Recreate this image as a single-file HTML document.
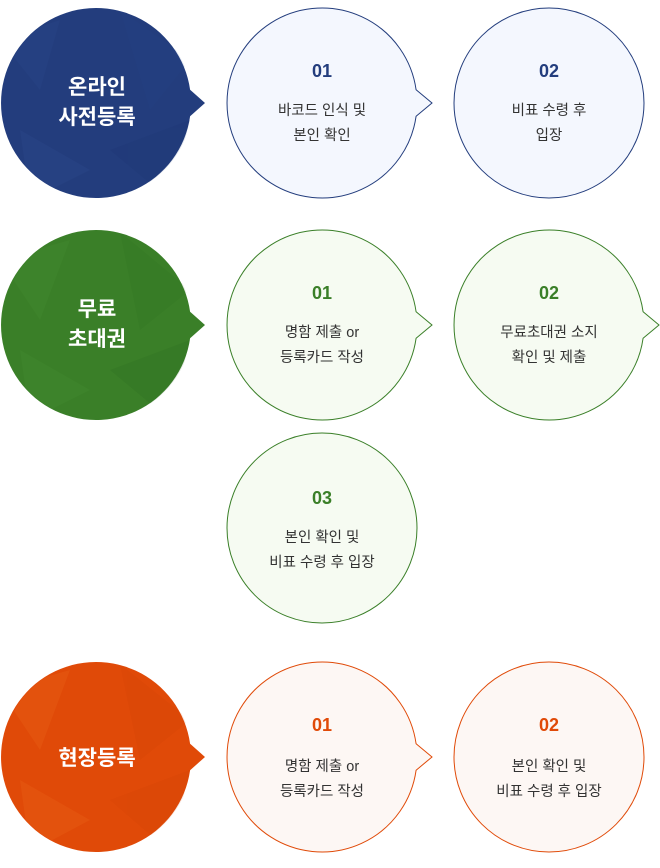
<!DOCTYPE html>
<html><head><meta charset="utf-8"><style>
html,body{margin:0;padding:0;background:#fff;}
svg{display:block;font-family:"Liberation Sans","Noto Sans CJK KR",sans-serif;}
</style></head><body>
<svg width="660" height="868" viewBox="0 0 660 868" xmlns="http://www.w3.org/2000/svg">
<defs>
<clipPath id="c1"><circle cx="97" cy="103" r="95"/></clipPath>
<clipPath id="c2"><circle cx="97" cy="325" r="95"/></clipPath>
<clipPath id="c3"><circle cx="97" cy="757" r="95"/></clipPath>
</defs>

<!-- Row 1 blue -->
<path d="M190.1,89.8 A95,95 0 1 0 190.1,116.2 L205,103 Z" fill="#233d7d"/>
<g clip-path="url(#c1)" opacity="0.12">
<polygon points="0,40 60,20 40,90" fill="#3b5aa0"/>
<polygon points="120,10 190,60 150,110" fill="#2b4a92"/>
<polygon points="20,130 90,170 30,200" fill="#4363a8"/>
<polygon points="110,150 190,120 170,200" fill="#1a2f68"/>
</g>
<text x="97" y="94" fill="#fff" font-size="21" font-weight="bold" text-anchor="middle">온라인</text>
<text x="97" y="124" fill="#fff" font-size="21" font-weight="bold" text-anchor="middle">사전등록</text>

<path d="M416.1,89.8 A95,95 0 1 0 416.1,116.2 L432,103 Z" fill="#f4f7fe" stroke="#233d7d" stroke-width="1"/>
<text x="322" y="77" fill="#233d7d" font-size="18" font-weight="bold" text-anchor="middle">01</text>
<text x="322" y="115" fill="#333" font-size="14.5" text-anchor="middle">바코드 인식 및</text>
<text x="322" y="140" fill="#333" font-size="14.5" text-anchor="middle">본인 확인</text>

<circle cx="549" cy="103" r="95" fill="#f4f7fe" stroke="#233d7d" stroke-width="1"/>
<text x="549" y="77" fill="#233d7d" font-size="18" font-weight="bold" text-anchor="middle">02</text>
<text x="549" y="115" fill="#333" font-size="14.5" text-anchor="middle">비표 수령 후</text>
<text x="549" y="140" fill="#333" font-size="14.5" text-anchor="middle">입장</text>

<!-- Row 2 green -->
<path d="M190.1,311.8 A95,95 0 1 0 190.1,338.2 L205,325 Z" fill="#3a7f28"/>
<g clip-path="url(#c2)" opacity="0.12">
<polygon points="0,260 70,240 40,320" fill="#5da040"/>
<polygon points="120,232 190,290 140,330" fill="#2a6a1c"/>
<polygon points="20,350 90,390 30,420" fill="#5da040"/>
<polygon points="110,370 190,340 170,420" fill="#245a18"/>
</g>
<text x="97" y="316" fill="#fff" font-size="21" font-weight="bold" text-anchor="middle">무료</text>
<text x="97" y="346" fill="#fff" font-size="21" font-weight="bold" text-anchor="middle">초대권</text>

<path d="M416.1,311.8 A95,95 0 1 0 416.1,338.2 L432,325 Z" fill="#f6fbf2" stroke="#3a7f28" stroke-width="1"/>
<text x="322" y="299" fill="#3a7f28" font-size="18" font-weight="bold" text-anchor="middle">01</text>
<text x="322" y="337" fill="#333" font-size="14.5" text-anchor="middle">명함 제출 or</text>
<text x="322" y="362" fill="#333" font-size="14.5" text-anchor="middle">등록카드 작성</text>

<path d="M643.1,311.8 A95,95 0 1 0 643.1,338.2 L659,325 Z" fill="#f6fbf2" stroke="#3a7f28" stroke-width="1"/>
<text x="549" y="299" fill="#3a7f28" font-size="18" font-weight="bold" text-anchor="middle">02</text>
<text x="549" y="337" fill="#333" font-size="14.5" text-anchor="middle">무료초대권 소지</text>
<text x="549" y="362" fill="#333" font-size="14.5" text-anchor="middle">확인 및 제출</text>

<circle cx="322" cy="528" r="95" fill="#f6fbf2" stroke="#3a7f28" stroke-width="1"/>
<text x="322" y="504" fill="#3a7f28" font-size="18" font-weight="bold" text-anchor="middle">03</text>
<text x="322" y="542" fill="#333" font-size="14.5" text-anchor="middle">본인 확인 및</text>
<text x="322" y="567" fill="#333" font-size="14.5" text-anchor="middle">비표 수령 후 입장</text>

<!-- Row 3 orange -->
<path d="M190.1,743.8 A95,95 0 1 0 190.1,770.2 L205,757 Z" fill="#e04a08"/>
<g clip-path="url(#c3)" opacity="0.12">
<polygon points="0,690 70,670 40,750" fill="#ff8a30"/>
<polygon points="120,664 190,720 140,760" fill="#c83800"/>
<polygon points="20,780 90,820 30,852" fill="#ff8a30"/>
<polygon points="110,800 190,770 170,852" fill="#c83800"/>
</g>
<text x="97" y="765" fill="#fff" font-size="21" font-weight="bold" text-anchor="middle">현장등록</text>

<path d="M416.1,743.8 A95,95 0 1 0 416.1,770.2 L432,757 Z" fill="#fdf7f4" stroke="#e04a08" stroke-width="1"/>
<text x="322" y="731" fill="#e04a08" font-size="18" font-weight="bold" text-anchor="middle">01</text>
<text x="322" y="771" fill="#333" font-size="14.5" text-anchor="middle">명함 제출 or</text>
<text x="322" y="796" fill="#333" font-size="14.5" text-anchor="middle">등록카드 작성</text>

<circle cx="549" cy="757" r="95" fill="#fdf7f4" stroke="#e04a08" stroke-width="1"/>
<text x="549" y="731" fill="#e04a08" font-size="18" font-weight="bold" text-anchor="middle">02</text>
<text x="549" y="771" fill="#333" font-size="14.5" text-anchor="middle">본인 확인 및</text>
<text x="549" y="796" fill="#333" font-size="14.5" text-anchor="middle">비표 수령 후 입장</text>
</svg>
</body></html>
